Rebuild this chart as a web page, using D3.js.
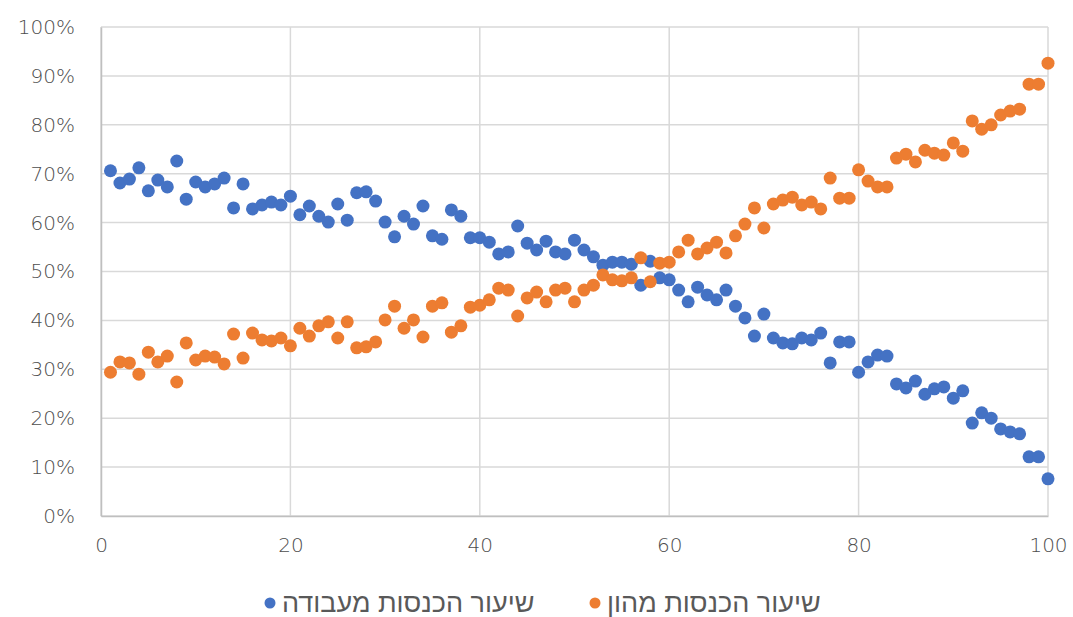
<!DOCTYPE html>
<html>
<head>
<meta charset="utf-8">
<script src="https://cdn.jsdelivr.net/npm/d3@7"></script>
<style>
  body { margin: 0; background: #fff; }
  .tick text { font-family: "DejaVu Sans", sans-serif; font-weight: 200; fill: #4d4d4d; }
</style>
</head>
<body>
<script>
// percentile (1..100)
const percentiles = d3.range(1, 101);

// share of income from labour, %
const laborShare = [
  70.6, 68.1, 68.9, 71.2, 66.5, 68.7, 67.3, 72.6, 64.8, 68.3,
  67.3, 67.9, 69.1, 63.0, 67.9, 62.8, 63.6, 64.2, 63.6, 65.4,
  61.6, 63.4, 61.3, 60.1, 63.8, 60.5, 66.1, 66.3, 64.4, 60.1,
  57.1, 61.3, 59.7, 63.4, 57.3, 56.6, 62.6, 61.3, 56.9, 56.9,
  56.0, 53.6, 54.0, 59.3, 55.8, 54.4, 56.2, 54.0, 53.6, 56.4,
  54.4, 53.0, 51.3, 51.9, 51.9, 51.5, 47.2, 52.1, 48.7, 48.3,
  46.2, 43.8, 46.8, 45.2, 44.2, 46.2, 42.9, 40.5, 36.8, 41.3,
  36.4, 35.4, 35.2, 36.4, 36.0, 37.4, 31.3, 35.6, 35.6, 29.4,
  31.5, 32.9, 32.7, 27.0, 26.2, 27.6, 24.9, 26.0, 26.4, 24.1,
  25.6, 19.0, 21.1, 20.0, 17.8, 17.2, 16.8, 12.1, 12.1, 7.6
];

// share of income from capital, %
const capitalShare = [
  29.4, 31.5, 31.3, 29.0, 33.5, 31.5, 32.7, 27.4, 35.4, 31.9,
  32.7, 32.5, 31.1, 37.2, 32.3, 37.4, 36.0, 35.8, 36.4, 34.8,
  38.4, 36.8, 38.9, 39.7, 36.4, 39.7, 34.4, 34.6, 35.6, 40.1,
  42.9, 38.4, 40.1, 36.6, 42.9, 43.6, 37.6, 38.9, 42.7, 43.1,
  44.2, 46.6, 46.2, 40.9, 44.6, 45.8, 43.8, 46.2, 46.6, 43.8,
  46.2, 47.2, 49.3, 48.3, 48.1, 48.7, 52.8, 47.9, 51.7, 51.9,
  54.0, 56.4, 53.6, 54.8, 56.0, 53.8, 57.3, 59.7, 63.0, 58.9,
  63.8, 64.6, 65.2, 63.6, 64.2, 62.8, 69.1, 65.0, 65.0, 70.8,
  68.5, 67.3, 67.3, 73.2, 74.0, 72.4, 74.8, 74.2, 73.8, 76.3,
  74.6, 80.8, 79.1, 80.0, 82.0, 82.8, 83.2, 88.3, 88.3, 92.6
];

const seriesNames = ["שיעור הכנסות מעבודה", "שיעור הכנסות מהון"];
const seriesColors = ["#4472C4", "#ED7D31"];

let width = 1073, height = 617;
let margin = {top: 27, right: 25, bottom: 101, left: 101};

let svg = d3.select("body").append("svg")
            .attr("width", width)
            .attr("height", height);

let x = d3.scaleLinear().domain([0, 100]).range([margin.left, width - margin.right]);
let y = d3.scaleLinear().domain([0, 100]).range([height - margin.bottom, margin.top]);

// gridlines
svg.append("g").selectAll("line").data(y.ticks(10)).enter().append("line")
   .attr("x1", x(0)).attr("x2", x(100))
   .attr("y1", d => y(d)).attr("y2", d => y(d))
   .attr("stroke", "#d9d9d9").attr("stroke-width", 1.5);
svg.append("g").selectAll("line").data(x.ticks(5)).enter().append("line")
   .attr("x1", d => x(d)).attr("x2", d => x(d))
   .attr("y1", y(0)).attr("y2", y(100))
   .attr("stroke", "#d9d9d9").attr("stroke-width", 1.5);

// axes
let yAxis = svg.append("g").attr("transform", "translate(" + x(0) + ",0)")
   .call(d3.axisLeft(y).ticks(10).tickFormat(d => d + "%").tickSize(0).tickPadding(26));
let xAxis = svg.append("g").attr("transform", "translate(0," + y(0) + ")")
   .call(d3.axisBottom(x).ticks(5).tickSize(0).tickPadding(22));
[xAxis, yAxis].forEach(a => {
  a.select(".domain").attr("stroke", "#bfbfbf").attr("stroke-width", 1.5);
  a.selectAll("text").style("font-size", "20px");
});

// points
let series = [laborShare, capitalShare];
series.forEach((vals, s) => {
  svg.append("g").selectAll("circle").data(vals).enter().append("circle")
     .attr("cx", (d, i) => x(percentiles[i]))
     .attr("cy", d => y(d))
     .attr("r", 6.5)
     .attr("fill", seriesColors[s]);
});

// legend
let legendX = [270, 595];
let legend = svg.append("g").selectAll("g").data(seriesNames).enter().append("g")
   .attr("transform", (d, i) => "translate(" + legendX[i] + ",603)");
legend.append("circle").attr("r", 5.5).attr("fill", (d, i) => seriesColors[i]);
legend.append("text").text(d => d)
   .attr("x", 12).attr("y", 9)
   .attr("fill", "#595959")
   .style("font-family", "'Liberation Sans', sans-serif")
   .style("font-size", "27px");
</script>
</body>
</html>
